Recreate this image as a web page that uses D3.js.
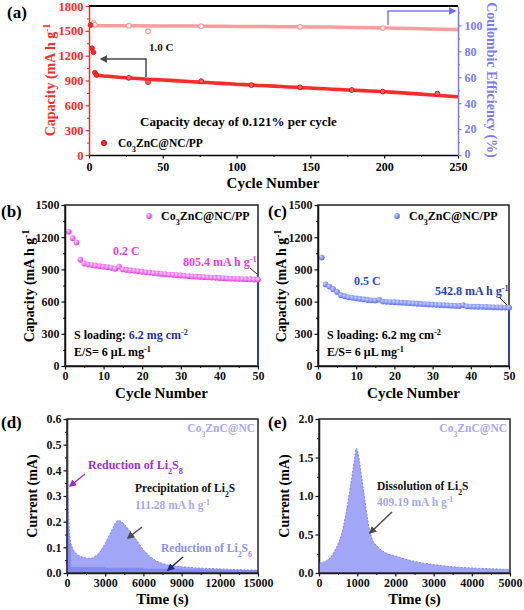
<!DOCTYPE html>
<html><head><meta charset="utf-8">
<script src="https://cdn.jsdelivr.net/npm/d3@7"></script>
<style>body{margin:0;background:#fff} svg{display:block}</style>
</head><body>
<svg id="chart" width="524" height="610"></svg>
<script>
// ---------- DATA ----------
// (a) long cycling at 1.0 C
const capCycles = [1,2,3,4,5,10,15,20,25,30,35,40,45,50,55,60,65,70,75,80,85,90,95,100,105,110,115,120,125,130,135,140,145,150,155,160,165,170,175,180,185,190,195,200,205,210,215,220,225,230,235,240,245,250];
const capValues = [1570,1290,1240,995,965,955,948,940,934,928,921,915,911,906,901,896,891,885,880,875,870,865,860,854,850,845,840,836,832,827,822,818,813,809,804,800,795,791,786,782,778,774,770,765,760,754,748,741,735,728,722,716,710,703];
const capMarkCycles = [27,40,76,110,143,178,199,236];
const capMarkValues = [932,880,892,845,817,785,765,742];
const ceCycles = [2,3,4,5,10,20,30,50,60,70,80,90,100,110,120,130,140,150,160,170,180,190,200,210,220,230,240,250];
const ceValues = [100.5,102,100.5,100,99.8,99.8,99.7,99.6,99.5,99.5,99.4,99.3,99.2,99.2,99.1,99,98.9,98.8,98.7,98.6,98.4,98.2,98,97.8,97.6,97.3,97,96.8];
const ceMarkCycles = [2,3,4,27,40,76,143,199];
const ceMarkValues = [100.5,102,100.5,99.8,95.5,99.4,98.8,98];

// (b) 0.2 C, 50 cycles
const bCycles = d3.range(1,51);
const bValues = [1250,1190,1150,990,955,945,940,935,930,925,920,915,905,925,900,895,890,887,883,878,873,870,866,862,858,855,852,849,846,843,840,837,835,832,830,828,826,824,822,820,818,816,814,812,811,810,809,808,806,805.4];

// (c) 0.5 C, 50 cycles
const cCycles = d3.range(1,51);
const cValues = [1010,760,740,715,690,660,650,640,635,630,625,620,615,612,610,618,600,598,596,594,592,590,588,585,583,580,578,576,574,572,570,568,566,564,562,560,559,568,556,554,553,552,551,550,549,547,546,545,544,542.8];

// (d) potentiostatic discharge (precipitation)
const dTime = [0,30,60,100,150,200,300,450,600,800,1000,1300,1600,2000,2500,3000,3500,3800,4000,4200,4500,5000,5500,6000,6500,7000,7500,8000,9000,10000,11000,12000,13000,14000,15000];
const dCurrent = [0.62,0.5,0.38,0.28,0.2,0.15,0.115,0.095,0.082,0.072,0.066,0.06,0.057,0.058,0.075,0.115,0.165,0.195,0.205,0.203,0.19,0.16,0.125,0.09,0.065,0.047,0.037,0.03,0.024,0.02,0.018,0.016,0.014,0.012,0.011];
const dBaseTime = [300,3000,6000,9000,12000,15000];
const dBaseCurrent = [0.026,0.023,0.02,0.017,0.014,0.012];

// (e) potentiostatic charge (dissolution)
const eTime = [0,100,200,300,400,500,600,700,800,900,950,975,1000,1050,1100,1200,1300,1400,1500,1600,1800,2000,2200,2500,3000,3500,4000,4500,5000];
const eCurrent = [0.13,0.14,0.16,0.2,0.28,0.38,0.52,0.76,1.05,1.38,1.55,1.62,1.6,1.48,1.3,0.95,0.62,0.43,0.36,0.31,0.25,0.22,0.19,0.15,0.11,0.08,0.065,0.055,0.045];

// tick labels
const aCapTicks = [0,300,600,900,1200,1500,1800];
const aCETicks = [0,20,40,60,80,100];
const aCycleTicks = [0,50,100,150,200,250];
const bcCapTicks = [0,300,600,900,1200,1500];
const bcCycleTicks = [0,10,20,30,40,50];
const dCurTicks = [0,0.1,0.2,0.3,0.4,0.5,0.6];
const dTimeTicks = [0,3000,6000,9000,12000,15000];
const eCurTicks = [0,0.5,1.0,1.5,2.0];
const eTimeTicks = [0,1000,2000,3000,4000,5000];

// ---------- DRAW ----------
const FONT = "'Liberation Serif','Times New Roman',serif";
const svg = d3.select('#chart');
const defs = svg.append('defs');

function marker(id, color) {
  defs.append('marker').attr('id', id).attr('viewBox','0 0 10 10').attr('refX',8).attr('refY',5)
    .attr('markerWidth',5).attr('markerHeight',5).attr('orient','auto-start-reverse')
    .append('path').attr('d','M0,0 L10,5 L0,10 z').attr('fill',color);
}
marker('arGray','#4a4a4a');
marker('arBlue','#6f6fff');
marker('arPurple','#9a2fd6');
marker('arNavy','#1c2a80');

function grad(id, c1, c2) {
  const g = defs.append('radialGradient').attr('id',id).attr('cx','35%').attr('cy','35%').attr('r','65%');
  g.append('stop').attr('offset','0%').attr('stop-color',c1);
  g.append('stop').attr('offset','100%').attr('stop-color',c2);
}
grad('gMag','#ffc8ff','#e23ee2');
grad('gBlue','#c9d0ff','#5d70f2');

function rich(sel, parts, size) {
  parts.forEach(p => {
    const [t, k, col] = Array.isArray(p) ? p : [p, '', null];
    const ts = sel.append('tspan').text(t);
    if (k === 'sub') ts.attr('baseline-shift','sub').attr('font-size', size*0.68);
    if (k === 'sup') ts.attr('baseline-shift','super').attr('font-size', size*0.68);
    if (col) ts.attr('fill', col);
  });
  return sel;
}
function text(x, y, parts, size, color, anchor, rot) {
  const t = svg.append('text').attr('x',x).attr('y',y).attr('font-family',FONT).attr('font-weight','bold')
    .attr('font-size',size).attr('fill',color).attr('text-anchor',anchor||'start');
  if (rot) t.attr('transform',`rotate(${rot},${x},${y})`);
  return rich(t, parts, size);
}
function styleAxis(g, color, fs) {
  g.select('.domain').attr('stroke',color).attr('stroke-width',1.5);
  g.selectAll('.tick line').attr('stroke',color).attr('stroke-width',1.2);
  g.selectAll('.tick text').attr('fill',color).attr('font-family',FONT).attr('font-weight','bold').attr('font-size',fs);
}
function addAxis(axisFn, scale, ticks, minor, transform, color, fs, fmt, pad) {
  const gm = svg.append('g').attr('transform',transform)
    .call(axisFn(scale).tickValues(minor).tickSize(2).tickFormat(''));
  gm.select('.domain').remove();
  gm.selectAll('.tick line').attr('stroke',color).attr('stroke-width',1);
  const g = svg.append('g').attr('transform',transform)
    .call(axisFn(scale).tickValues(ticks).tickSize(3.5).tickPadding(pad==null?2:pad).tickSizeOuter(0).tickFormat(fmt||d3.format('d')));
  styleAxis(g, color, fs);
  return g;
}
function arrow(points, color, mk, w) {
  svg.append('path').attr('d', d3.line()(points)).attr('fill','none').attr('stroke',color)
    .attr('stroke-width', w||1.5).attr('marker-end',`url(#${mk})`);
}

// ===== Panel (a) =====
{
  const x = d3.scaleLinear([0,250],[89,458]);
  const y = d3.scaleLinear([0,1800],[155,6]);
  const y2 = d3.scaleLinear([0,115],[155,6]);
  const RED = '#ff2a2a', CE = '#ff9d9d', BLUE = '#7b7bff';
  svg.append('path').datum(ceCycles.map((c,i)=>[x(c),y2(ceValues[i])]))
    .attr('d', d3.line()).attr('fill','none').attr('stroke',CE).attr('stroke-width',3.5);
  svg.selectAll('.cem').data(ceMarkCycles).join('circle')
    .attr('cx',d=>x(d)).attr('cy',(d,i)=>y2(ceMarkValues[i])).attr('r',2.3)
    .attr('fill','#fff').attr('stroke',CE).attr('stroke-width',1.2);
  svg.append('path').datum(capCycles.slice(4).map((c,i)=>[x(c),y(capValues[i+4])]))
    .attr('d', d3.line()).attr('fill','none').attr('stroke',RED).attr('stroke-width',3.6);
  svg.selectAll('.cap').data(capCycles.slice(0,5)).join('circle')
    .attr('cx',d=>x(d)).attr('cy',(d,i)=>y(capValues[i])).attr('r',2.4)
    .attr('fill',RED).attr('stroke','#d81010').attr('stroke-width',0.8);
  svg.selectAll('.capm').data(capMarkCycles).join('circle')
    .attr('cx',d=>x(d)).attr('cy',(d,i)=>y(capMarkValues[i])).attr('r',2.4)
    .attr('fill','#ff6060').attr('stroke','#e01818').attr('stroke-width',1);
  svg.append('line').attr('x1',89).attr('x2',458).attr('y1',6).attr('y2',6).attr('stroke','#000').attr('stroke-width',2);
  addAxis(d3.axisBottom, x, aCycleTicks, d3.range(25,250,50), 'translate(0,155)', '#000', 12, null, 4);
  addAxis(d3.axisLeft, y, aCapTicks, d3.range(150,1800,300), 'translate(89,0)', RED, 12.5);
  const gr = addAxis(d3.axisRight, y2, aCETicks, d3.range(10,115,20), 'translate(458,0)', BLUE, 12, null, 3);
  gr.selectAll('.tick text').filter(d=>d===0).attr('y',-1.5);
  text(273, 188, ['Cycle Number'], 15, '#000', 'middle');
  text(55, 80, ['Capacity (mA h g',['-1','sup']], 14, RED, 'middle', -90);
  text(487, 80, ['Coulombic Efficiency (%)'], 14, BLUE, 'middle', 90);
  text(7, 18, ['(a)'], 17, '#000');
  text(149, 51, ['1.0 C'], 11, '#111');
  text(140, 126, ['Capacity decay of 0.121% per cycle'], 13, '#000');
  svg.append('circle').attr('cx',104).attr('cy',143).attr('r',2.6).attr('fill',RED).attr('stroke','#d81010');
  text(118, 147, ['Co',['3','sub'],'ZnC@NC/PP'], 11.5, '#000');
  arrow([[146,77],[146,59],[101,59]], '#4a4a4a', 'arGray', 1.5);
  arrow([[388,25],[388,11],[455,11]], BLUE, 'arBlue', 1.5);
}

// ===== Panels (b),(c) =====
function cyclePanel(x0, x1, cyc, vals, fillId, lbl, lblX, rate, rateX, rateY, rateCol, endTxt, endX, endY, endCol, legX, arrowPts, blueLoad, titleOff) {
  const x = d3.scaleLinear([0,50],[x0,x1]);
  const y = d3.scaleLinear([0,1500],[366,205]);
  svg.append('rect').attr('x',x0).attr('y',205).attr('width',x1-x0).attr('height',161)
    .attr('fill','none').attr('stroke','#222').attr('stroke-width',1.5);
  svg.append('line').attr('x1',x(50)).attr('x2',x(50)).attr('y1',y(vals[vals.length-1])).attr('y2',366)
    .attr('stroke','#2636b8').attr('stroke-width',1.5);
  svg.selectAll(null).data(cyc).join('circle')
    .attr('cx',d=>x(d)).attr('cy',(d,i)=>y(vals[i])).attr('r',2.9).attr('fill',`url(#${fillId})`);
  addAxis(d3.axisBottom, x, bcCycleTicks, d3.range(5,50,10), 'translate(0,366)', '#111', 12);
  addAxis(d3.axisLeft, y, bcCapTicks, d3.range(150,1500,300), `translate(${x0},0)`, '#111', 12);
  text((x0+x1)/2, 398, ['Cycle Number'], 15, '#000', 'middle');
  text(x0-titleOff, 286, ['Capacity (mA h g',['-1','sup']], 14, '#000', 'middle', -90);
  text(lblX, 217, [lbl], 17, '#000');
  svg.append('circle').attr('cx',legX).attr('cy',216).attr('r',2.9).attr('fill',`url(#${fillId})`);
  text(legX+12, 220, ['Co',['3','sub'],'ZnC@NC/PP'], 12, '#000');
  text(rateX, rateY, [rate], 12, rateCol);
  text(endX, endY, [endTxt,['-1','sup']], 12, endCol);
  svg.append('path').attr('d', d3.line()(arrowPts)).attr('stroke','#222').attr('stroke-width',1).attr('fill','none');
  text(x0+9, 339, ['S loading: ',['6.2 mg cm','',blueLoad],['-2','sup',blueLoad]], 12, '#000');
  text(x0+9, 356, ['E/S= 6 μL mg',['-1','sup']], 12, '#000');
}
cyclePanel(65, 258, bCycles, bValues, 'gMag', '(b)', 1, '0.2 C', 113, 255, '#e23ee2', '805.4 mA h g', 183, 266, '#e23ee2', 149, [[250,268],[257,274]], '#27309a', 31);
cyclePanel(318, 509, cCycles, cValues, 'gBlue', '(c)', 268, '0.5 C', 354, 285, '#2c4bc8', '542.8 mA h g', 435, 295, '#2a3cb0', 397, [[499,297],[507,305]], '#000', 32);

// ===== Panels (d),(e) =====
const LAV = '#a2a6f6', LAVD = '#7d84ee', LAVT = '#a4a8f4';
function ptPanel(x0, x1, xDom, yDom, tx, ty, txMinor, tyMinor, lbl, lblX, yFmt) {
  const x = d3.scaleLinear(xDom,[x0,x1]);
  const y = d3.scaleLinear(yDom,[573,419]);
  addAxis(d3.axisBottom, x, tx, txMinor, 'translate(0,573)', '#111', 12);
  addAxis(d3.axisLeft, y, ty, tyMinor, `translate(${x0},0)`, '#111', 12, yFmt);
  text((x0+x1)/2, 604, ['Time (s)'], 15, '#000', 'middle');
  text(x0-30, 496, ['Current (mA)'], 14, '#000', 'middle', -90);
  text(lblX, 428, [lbl], 17, '#000');
  text(x1-3, 432, ['Co',['3','sub'],'ZnC@NC'], 11.5, LAVT, 'end');
  return {x, y};
}
{
  const {x, y} = ptPanel(67, 258, [0,15000], [0,0.6], dTimeTicks, dCurTicks, d3.range(1500,15000,3000), d3.range(0.05,0.6,0.1), '(d)', 1, d3.format('.1f'));
  const clip = defs.append('clipPath').attr('id','clipD');
  clip.append('rect').attr('x',67).attr('y',419).attr('width',191).attr('height',154);
  const g = svg.append('g').attr('clip-path','url(#clipD)');
  const area = d3.area().x(d=>x(d[0])).y0(y(0)).y1(d=>y(d[1]));
  const main = dTime.map((t,i)=>[t,dCurrent[i]]);
  g.append('path').datum(main).attr('d',area).attr('fill',LAV);
  g.append('path').datum(main).attr('d',d3.line().x(d=>x(d[0])).y(d=>y(d[1])))
    .attr('fill','none').attr('stroke',LAVD).attr('stroke-width',1).attr('stroke-dasharray','2,1.5');
  const dark = main.filter(d=>d[0]<=300).concat(dBaseTime.map((t,i)=>[t,dBaseCurrent[i]]));
  g.append('path').datum(dark).attr('d',area.curve(d3.curveStepBefore)).attr('fill',LAVD).attr('opacity',0.85);
  svg.append('rect').attr('x',67).attr('y',419).attr('width',191).attr('height',154)
    .attr('fill','none').attr('stroke','#222').attr('stroke-width',1.5);
  text(88, 469, ['Reduction of Li',['2','sub'],'S',['8','sub']], 12, '#9a2fd6');
  arrow([[85,474],[70,486]], '#9a2fd6', 'arPurple', 1.5);
  text(135, 492, ['Precipitation of Li',['2','sub'],'S'], 11.5, '#111');
  text(135, 509, ['111.28 mA h g',['-1','sup']], 11.5, LAVT);
  arrow([[142,527],[128,538]], '#4a4a4a', 'arGray', 1.5);
  text(161, 552, ['Reduction of Li',['2','sub'],'S',['6','sub']], 11.5, '#8a90f0');
  arrow([[183,557],[168,570]], '#1c2a80', 'arNavy', 1.5);
}
{
  const {x, y} = ptPanel(319, 510, [0,5000], [0,2], eTimeTicks, eCurTicks, d3.range(500,5000,1000), d3.range(0.25,2,0.5), '(e)', 268, d3.format('.1f'));
  const main = eTime.map((t,i)=>[t,eCurrent[i]]);
  svg.append('path').datum(main).attr('d',d3.area().x(d=>x(d[0])).y0(y(0)).y1(d=>y(d[1])).curve(d3.curveMonotoneX)).attr('fill',LAV);
  svg.append('path').datum(main).attr('d',d3.line().x(d=>x(d[0])).y(d=>y(d[1])).curve(d3.curveMonotoneX))
    .attr('fill','none').attr('stroke',LAVD).attr('stroke-width',1).attr('stroke-dasharray','2,1.5');
  svg.append('rect').attr('x',319).attr('y',419).attr('width',191).attr('height',154)
    .attr('fill','none').attr('stroke','#222').attr('stroke-width',1.5);
  text(377, 490, ['Dissolution of Li',['2','sub'],'S'], 11.5, '#111');
  text(377, 506, ['409.19 mA h g',['-1','sup']], 11.5, LAVT);
  arrow([[392,512],[370,533]], '#4a4a4a', 'arGray', 1.5);
}
</script>
</body></html>
